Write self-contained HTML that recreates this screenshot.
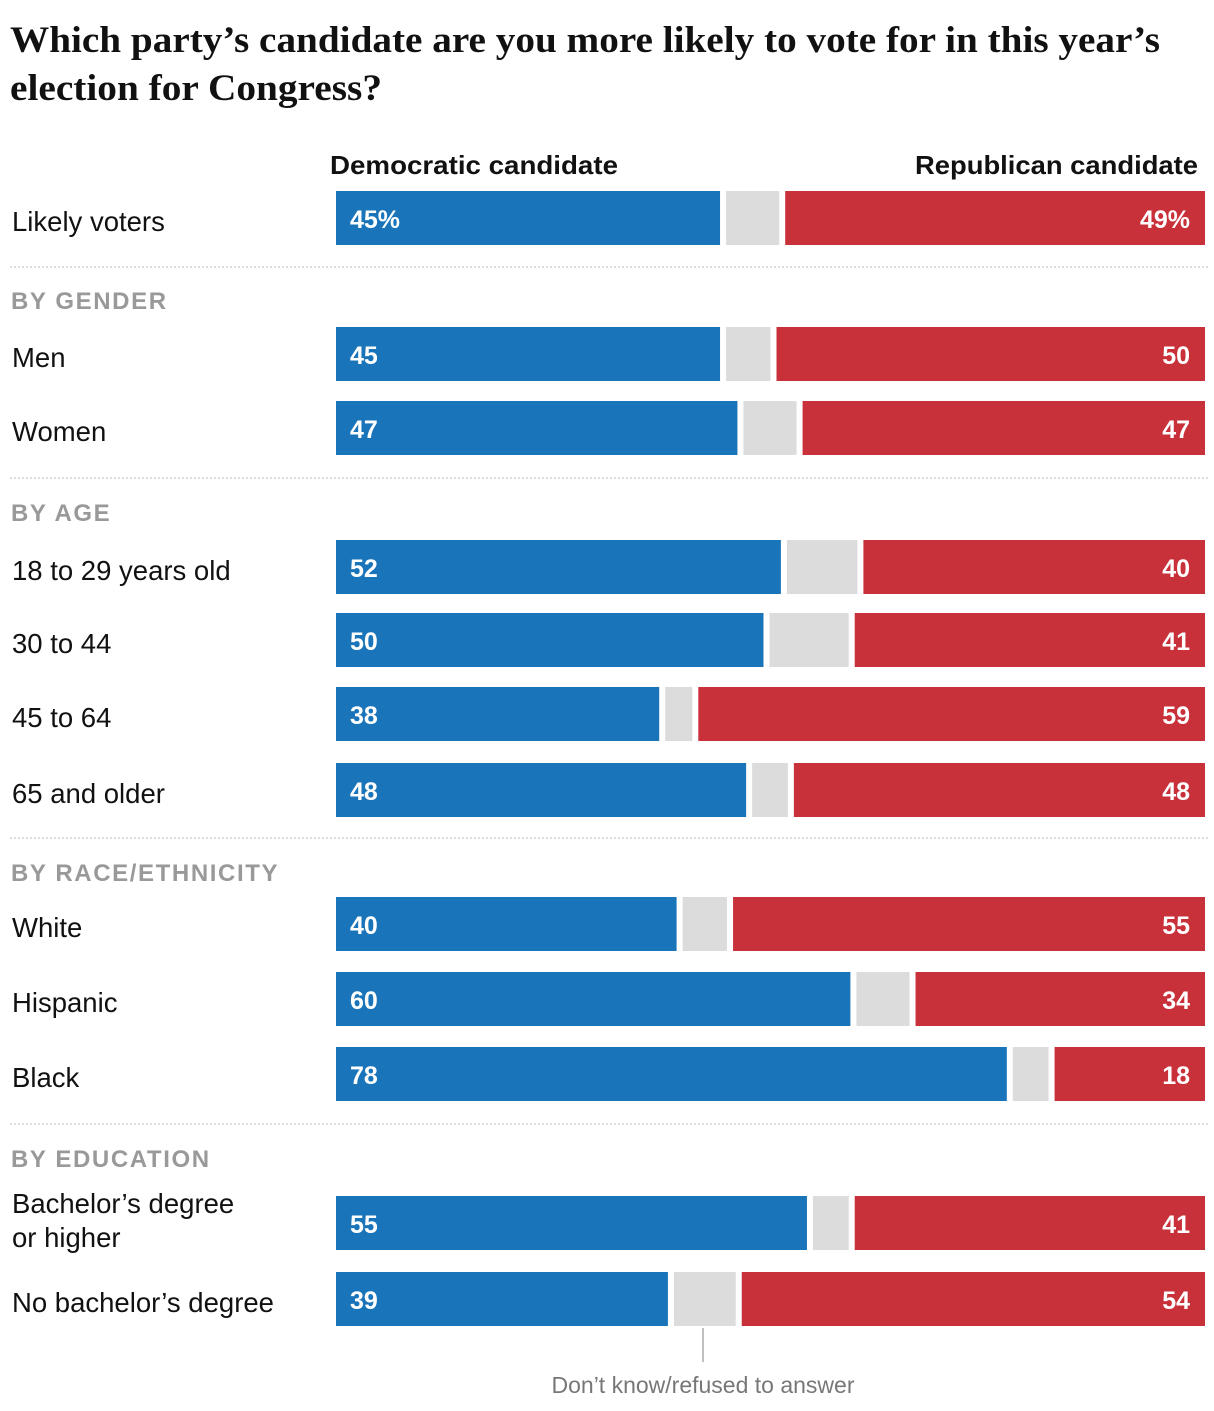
<!DOCTYPE html>
<html><head><meta charset="utf-8"><style>
body{margin:0;background:#fff;width:1214px;height:1406px;overflow:hidden;font-family:"Liberation Sans",sans-serif}
</style></head><body>
<svg width="1214" height="1406" xmlns="http://www.w3.org/2000/svg">
<text x="10" y="52" font-family="Liberation Serif,serif" font-weight="bold" font-size="37" fill="#111" textLength="1150" lengthAdjust="spacingAndGlyphs">Which party’s candidate are you more likely to vote for in this year’s</text>
<text x="10" y="100" font-family="Liberation Serif,serif" font-weight="bold" font-size="37" fill="#111" textLength="372" lengthAdjust="spacingAndGlyphs">election for Congress?</text>
<text x="330" y="174" font-weight="bold" font-size="26" fill="#111" textLength="288" lengthAdjust="spacingAndGlyphs">Democratic candidate</text>
<text x="1198" y="174" text-anchor="end" font-weight="bold" font-size="26" fill="#111" textLength="283" lengthAdjust="spacingAndGlyphs">Republican candidate</text>
<g id="g"></g>
<line x1="703" y1="1328" x2="703" y2="1362" stroke="#aaa" stroke-width="1.5"/>
<text x="703" y="1393" text-anchor="middle" font-size="23" fill="#777">Don’t know/refused to answer</text>
</svg>
<script>
const labels=["Likely voters","Men","Women","18 to 29 years old","30 to 44","45 to 64","65 and older","White","Hispanic","Black","Bachelor’s degree|or higher","No bachelor’s degree"];
const dem=[45,45,47,52,50,38,48,40,60,78,55,39];
const rep=[49,50,47,40,41,59,48,55,34,18,41,54];
const barTops=[191,327,401,540,613,687,763,897,972,1047,1196,1272];
const sections=["BY GENDER","BY AGE","BY RACE/ETHNICITY","BY EDUCATION"];
const sectionY=[300,512,872,1158];
const ruleY=[267,478,838,1124];
const NS="http://www.w3.org/2000/svg";
const g=document.getElementById('g');
const X0=336,X1=1205,S=(X1-X0)/100,H=54;
function mk(t,a){const e=document.createElementNS(NS,t);for(const k in a)e.setAttribute(k,a[k]);g.appendChild(e);return e;}
ruleY.forEach((y,i)=>{const l=mk('line',{x1:10,x2:1208,y1:y,y2:y,stroke:'#bbb','stroke-dasharray':'2,2'});

});
sections.forEach((s,i)=>{const t=mk('text',{x:11,y:sectionY[i]+9,'font-size':24,'font-weight':'bold',fill:'#999','letter-spacing':'1.6'});t.textContent=s;

});
labels.forEach((lab,i)=>{
 const y=barTops[i],d=dem[i],r=rep[i];
 const parts=lab.split('|');
 parts.forEach((p,j)=>{const t=mk('text',{x:12,y:y+(parts.length>1?17+j*34:40),'font-size':27.5,fill:'#111'});t.textContent=p;
 
 });
 const bx=X0,bw=d*S-7;
 const rx=X1-r*S+6,rw=r*S-6;
 const gx=X0+d*S-1,gw=rx-6-gx;
 const b=mk('rect',{x:bx,y:y,width:bw,height:H,fill:'#1a74b9'});
 
 
 const gr=mk('rect',{x:gx,y:y,width:Math.max(0,gw),height:H,fill:'#dcdcdc'});
 
 
 const rr=mk('rect',{x:rx,y:y,width:rw,height:H,fill:'#c9313a'});
 
 
 const t1=mk('text',{x:350,y:y+37,'font-size':25,'font-weight':'bold',fill:'#fff'});t1.textContent=d+(i==0?'%':'');
 
 
 const t2=mk('text',{x:1190,y:y+37,'text-anchor':'end','font-size':25,'font-weight':'bold',fill:'#fff'});t2.textContent=r+(i==0?'%':'');
 
 
});
</script>
</body></html>
